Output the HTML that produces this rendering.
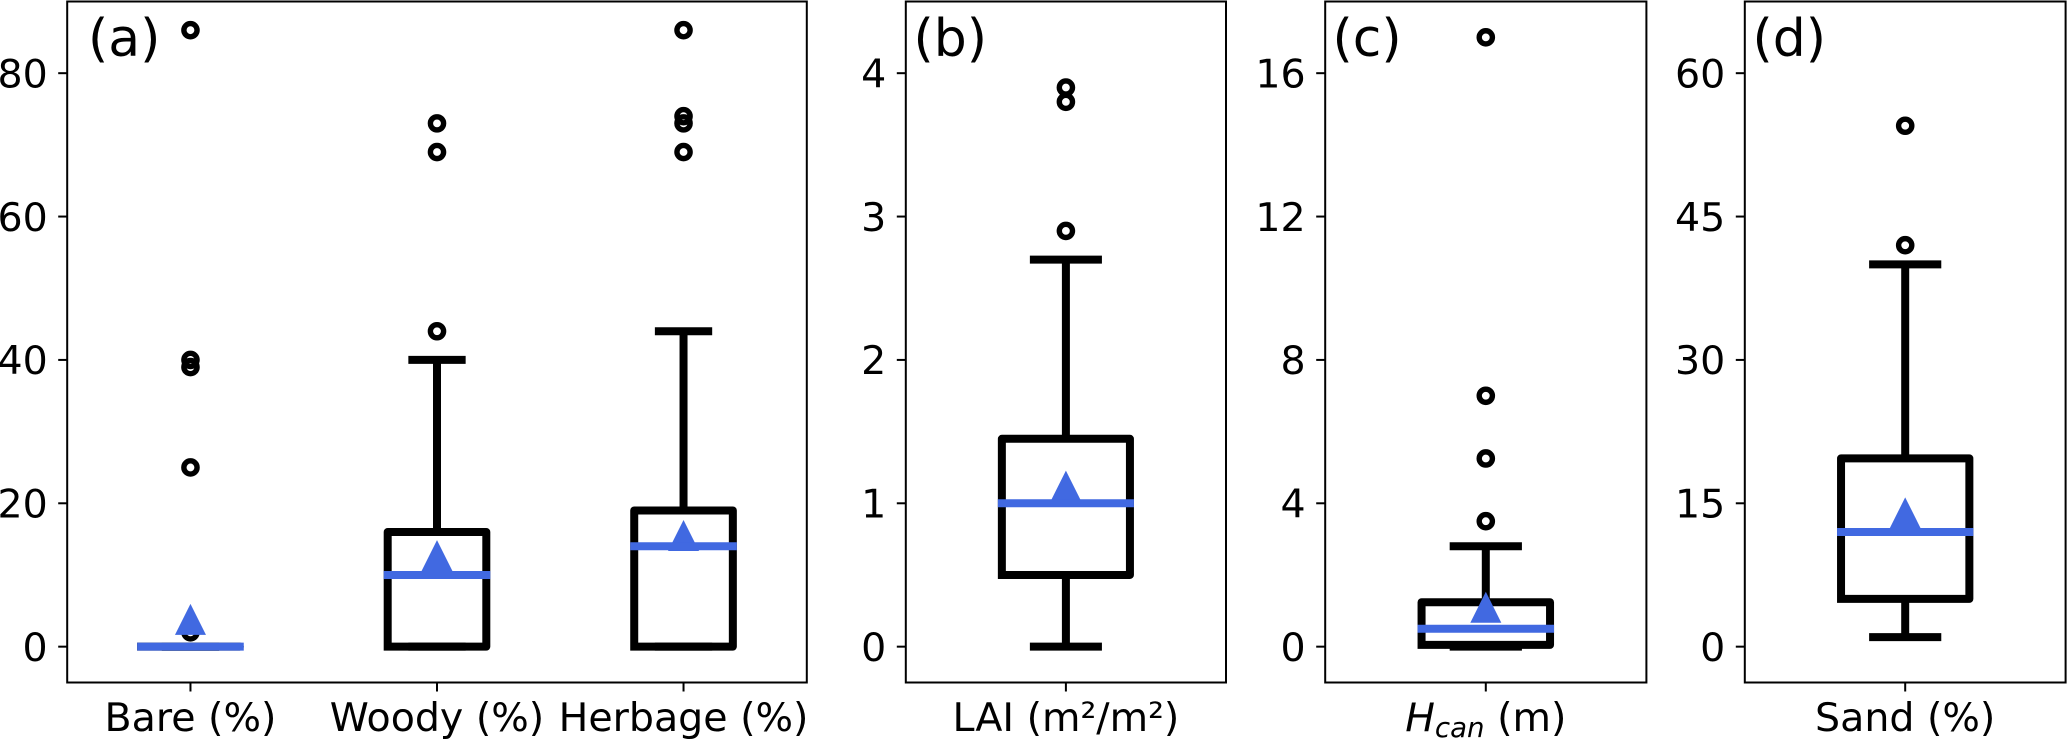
<!DOCTYPE html>
<html lang="en">
<head>
<meta charset="utf-8">
<title>Box plots of land surface properties</title>
<style>
  html, body { margin: 0; padding: 0; background: #ffffff; width: 2067px; height: 739px; overflow: hidden; }
  svg { display: block; }
  text { font-family: "DejaVu Sans", "Liberation Sans", sans-serif; fill: #000000; }
</style>
</head>
<body>
<svg id="chart" xmlns="http://www.w3.org/2000/svg" width="2067" height="739" viewBox="0 0 2067 739"></svg>
<script>
// ---- Panel (a): land cover fractions ----
const coverCategories = ['Bare (%)', 'Woody (%)', 'Herbage (%)'];
const coverLowerWhisker = [0, 0, 0];
const coverQ1 = [0, 0, 0];
const coverMedian = [0, 10, 14];
const coverQ3 = [0, 16, 19];
const coverUpperWhisker = [0, 40, 44];
const coverMean = [3.8, 12.7, 15.5];
const coverFliers = [[86, 40, 39, 25, 2], [73, 69, 44], [86, 74, 73, 69]];
const coverTicks = [0, 20, 40, 60, 80];

// ---- Panel (b): leaf area index ----
const laiCategories = ['LAI (m²/m²)'];
const laiLowerWhisker = [0];
const laiQ1 = [0.5];
const laiMedian = [1];
const laiQ3 = [1.45];
const laiUpperWhisker = [2.7];
const laiMean = [1.12];
const laiFliers = [[3.9, 3.8, 2.9]];
const laiTicks = [0, 1, 2, 3, 4];

// ---- Panel (c): canopy height ----
const canopyCategories = ['Hcan (m)'];
const canopyLowerWhisker = [0];
const canopyQ1 = [0.05];
const canopyMedian = [0.5];
const canopyQ3 = [1.24];
const canopyUpperWhisker = [2.8];
const canopyMean = [1.1];
const canopyFliers = [[17, 7, 5.25, 3.5]];
const canopyTicks = [0, 4, 8, 12, 16];

// ---- Panel (d): sand fraction ----
const sandCategories = ['Sand (%)'];
const sandLowerWhisker = [1];
const sandQ1 = [5];
const sandMedian = [12];
const sandQ3 = [19.7];
const sandUpperWhisker = [40];
const sandMean = [14];
const sandFliers = [[54.5, 42]];
const sandTicks = [0, 15, 30, 45, 60];

const SVG_NS = 'http://www.w3.org/2000/svg';
const BLACK = '#000000';
const BLUE = '#4169e1';
const LINE = 8;
const FONT = 39.5;
const PANEL_TOP = 1.5;
const PANEL_BOTTOM = 682.5;
const root = document.getElementById('chart');

const panels = [
  { id: 'a', left: 67.2, right: 806.8, yMin: -5, yMax: 90, labelX: 88, cats: coverCategories, lo: coverLowerWhisker, q1: coverQ1, med: coverMedian, q3: coverQ3, hi: coverUpperWhisker, mean: coverMean, fliers: coverFliers, ticks: coverTicks },
  { id: 'b', left: 905.8, right: 1226, yMin: -0.25, yMax: 4.5, labelX: 913.5, cats: laiCategories, lo: laiLowerWhisker, q1: laiQ1, med: laiMedian, q3: laiQ3, hi: laiUpperWhisker, mean: laiMean, fliers: laiFliers, ticks: laiTicks },
  { id: 'c', left: 1325.2, right: 1646.4, yMin: -1, yMax: 18, labelX: 1332.5, cats: canopyCategories, lo: canopyLowerWhisker, q1: canopyQ1, med: canopyMedian, q3: canopyQ3, hi: canopyUpperWhisker, mean: canopyMean, fliers: canopyFliers, ticks: canopyTicks },
  { id: 'd', left: 1744.8, right: 2065.6, yMin: -3.75, yMax: 67.5, labelX: 1752.5, cats: sandCategories, lo: sandLowerWhisker, q1: sandQ1, med: sandMedian, q3: sandQ3, hi: sandUpperWhisker, mean: sandMean, fliers: sandFliers, ticks: sandTicks }
];

function make(tag, attrs, parent) {
  const el = document.createElementNS(SVG_NS, tag);
  for (const k in attrs) el.setAttribute(k, attrs[k]);
  parent.appendChild(el);
  return el;
}

function slug(s) {
  return s.toLowerCase().replace(/[^a-z0-9]+/g, '-').replace(/^-|-$/g, '');
}

function line(x1, y1, x2, y2, color, width, parent, cap) {
  return make('line', { x1: x1, y1: y1, x2: x2, y2: y2, stroke: color, 'stroke-width': width, 'stroke-linecap': cap || 'butt' }, parent);
}

panels.forEach(function (p) {
  const scaleX = function (v) { return p.left + (v - 0.5) * (p.right - p.left) / p.cats.length; };
  const scaleY = function (v) { return PANEL_BOTTOM - (v - p.yMin) * (PANEL_BOTTOM - PANEL_TOP) / (p.yMax - p.yMin); };
  const unit = scaleX(1) - scaleX(0);

  const g = make('g', {}, root);
  
  

  // y axis ticks and labels
  p.ticks.forEach(function (t) {
    const y = scaleY(t);
    const tick = line(p.left - 9, y, p.left, y, BLACK, 2, g);
    
    
    const label = make('text', { x: p.left - 19.5, y: y + 14.3, 'text-anchor': 'end', 'font-size': FONT }, g);
    label.textContent = String(t);
    
    
  });

  // boxes
  p.cats.forEach(function (cat, i) {
    const cx = scaleX(i + 1);
    const key = cat === 'Hcan (m)' ? 'canopy-height' : slug(cat);
    const box = make('g', {}, g);
    
    

    const whiskerHi = line(cx, scaleY(p.q3[i]), cx, scaleY(p.hi[i]), BLACK, LINE, box);
    
    
    const whiskerLo = line(cx, scaleY(p.q1[i]), cx, scaleY(p.lo[i]), BLACK, LINE, box);
    
    

    const capHalf = 0.1 * unit;
    const capHi = line(cx - capHalf, scaleY(p.hi[i]), cx + capHalf, scaleY(p.hi[i]), BLACK, LINE, box, 'square');
    
    
    const capLo = line(cx - capHalf, scaleY(p.lo[i]), cx + capHalf, scaleY(p.lo[i]), BLACK, LINE, box, 'square');
    
    

    const bx0 = cx - 0.2 * unit;
    const bx1 = cx + 0.2 * unit;
    const yq1 = scaleY(p.q1[i]);
    const yq3 = scaleY(p.q3[i]);
    const rect = make('polyline', {
      points: [bx0, yq1, bx1, yq1, bx1, yq3, bx0, yq3, bx0, yq1].join(' '),
      fill: 'none', stroke: BLACK, 'stroke-width': LINE, 'stroke-linecap': 'square', 'stroke-linejoin': 'round'
    }, box);
    
    

    p.fliers[i].forEach(function (v) {
      const c = make('circle', { cx: cx, cy: scaleY(v), r: 6.6, fill: 'none', stroke: BLACK, 'stroke-width': 5.4 }, box);
      
      
    });

    const my = scaleY(p.mean[i]);
    const tri = make('polygon', { points: [cx, my - 15.5, cx + 15.5, my + 15.5, cx - 15.5, my + 15.5].join(' '), fill: BLUE }, box);
    
    

    const med = line(bx0, scaleY(p.med[i]), bx1, scaleY(p.med[i]), BLUE, LINE, box, 'square');
    
    

    // x tick and label
    const tick = line(cx, PANEL_BOTTOM, cx, PANEL_BOTTOM + 9, BLACK, 2, g);
    
    

    const label = make('text', { x: cx, y: 731, 'text-anchor': 'middle', 'font-size': FONT }, g);
    
    
    if (cat === 'Hcan (m)') {
      const h = make('tspan', { 'font-style': 'italic' }, label);
      h.textContent = 'H';
      const sub = make('tspan', { 'font-style': 'italic', 'font-size': FONT * 0.7, dy: 6 }, label);
      sub.textContent = 'can';
      const rest = make('tspan', { dy: -6 }, label);
      rest.textContent = ' (m)';
    } else {
      label.textContent = cat;
    }
  });

  // frame
  const frame = make('rect', { x: p.left, y: PANEL_TOP, width: p.right - p.left, height: PANEL_BOTTOM - PANEL_TOP, fill: 'none', stroke: BLACK, 'stroke-width': 2 }, g);
  
  

  // panel letter
  const letter = make('text', { x: p.labelX, y: 55.8, 'font-size': 52 }, g);
  letter.textContent = '(' + p.id + ')';
  
  
});
</script>
</body>
</html>
